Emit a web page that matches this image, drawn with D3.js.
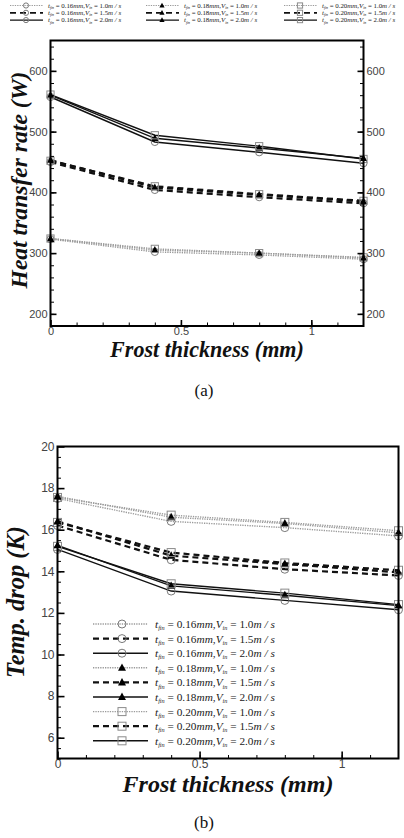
<!DOCTYPE html>
<html>
<head>
<meta charset="utf-8">
<script src="https://cdn.jsdelivr.net/npm/d3@7"></script>
<style>
  body { margin: 0; background: #fff; }
  svg { display: block; }
</style>
</head>
<body>
<script>
// ---- data ----
var frostThickness = [0, 0.4, 0.8, 1.2];          // mm
var finThickness = ["0.16", "0.18", "0.20"];      // mm (circle, triangle, square)
var inletVelocity = ["1.0", "1.5", "2.0"];        // m/s (dotted, dashed, solid)

// (a) heat transfer rate (W); rows = fin 0.16 / 0.18 / 0.20
var heatV10 = [[323, 302, 297, 290], [324, 305, 300, 292], [324, 307, 300, 293]];
var heatV15 = [[450, 404, 392, 382], [453, 408, 396, 385], [452, 410, 397, 386]];
var heatV20 = [[557, 483, 466, 448], [560, 489, 473, 456], [561, 494, 476, 455]];

// (b) temperature drop (K)
var tempV10 = [[17.5, 16.4, 16.1, 15.7], [17.6, 16.6, 16.3, 15.85], [17.55, 16.7, 16.35, 15.95]];
var tempV15 = [[16.2, 14.55, 14.1, 13.8], [16.4, 14.75, 14.35, 13.95], [16.35, 14.9, 14.4, 14.05]];
var tempV20 = [[15.05, 13.05, 12.6, 12.15], [15.25, 13.3, 12.85, 12.35], [15.2, 13.4, 12.95, 12.4]];

var xTickValues = [0, 0.5, 1];
var heatTickValues = [200, 300, 400, 500, 600];
var tempTickValues = [6, 8, 10, 12, 14, 16, 18, 20];

// ---- drawing ----
var W = 404, H = 838;
var svg = d3.select("body").append("svg").attr("width", W).attr("height", H);

var SERIF = "'Liberation Serif', 'Times New Roman', serif";
var SANS = "'Liberation Sans', Arial, sans-serif";

// one style per inlet velocity
var lineStyles = [
  { stroke: "#9a9a9a", width: 1.4, dash: "1.3,1.1" },
  { stroke: "#111", width: 2.2, dash: "6,4" },
  { stroke: "#111", width: 1.4, dash: null }
];

function drawMarker(g, k, x, y, s) {
  if (k === 0) {
    g.append("circle").attr("cx", x).attr("cy", y).attr("r", s)
      .attr("fill", "none").attr("stroke", "#7a7a7a").attr("stroke-width", 1);
  } else if (k === 1) {
    var pts = [[x, y - s * 1.1], [x - s, y + s * 0.75], [x + s, y + s * 0.75]];
    g.append("path").attr("d", "M" + pts.join("L") + "Z").attr("fill", "#000");
  } else {
    g.append("rect").attr("x", x - s).attr("y", y - s).attr("width", 2 * s).attr("height", 2 * s)
      .attr("fill", "none").attr("stroke", "#8a8a8a").attr("stroke-width", 1);
  }
}

function legendLabel(t, fin, vel, fs) {
  var sub = fs * 0.2;
  t.style("font-family", SERIF).style("white-space", "pre").style("font-size", fs + "px").attr("fill", "#222");
  t.append("tspan").style("font-style", "italic").text("t");
  t.append("tspan").style("font-style", "italic").style("font-size", (fs * 0.55) + "px").attr("dy", sub).text("fin");
  t.append("tspan").attr("dy", -sub).text(" = " + fin);
  t.append("tspan").style("font-style", "italic").text("mm,V");
  t.append("tspan").style("font-style", "italic").style("font-size", (fs * 0.55) + "px").attr("dy", sub).text("in");
  t.append("tspan").attr("dy", -sub).text(" = " + vel);
  t.append("tspan").style("font-style", "italic").text("m / s");
}

function fitText(sel, width) {
  var fs = parseFloat(sel.style("font-size"));
  var w = sel.node().getComputedTextLength();
  sel.style("font-size", (fs * width / w) + "px");
}

function drawPanel(p) {
  var g = svg.append("g");
  var x = d3.scaleLinear().domain([0, 1.2]).range([p.left, p.right]);
  var y = d3.scaleLinear().domain(p.yDomain).range([p.bottom, p.top]);

  var line = d3.line().x(function(d, i) { return x(frostThickness[i]); }).y(function(d) { return y(d); });

  // series
  p.series.forEach(function(rows, v) {
    rows.forEach(function(vals, k) {
      g.append("path").datum(vals).attr("d", line)
        .attr("fill", "none")
        .attr("stroke", lineStyles[v].stroke)
        .attr("stroke-width", lineStyles[v].width)
        .attr("stroke-dasharray", lineStyles[v].dash);
    });
  });
  p.series.forEach(function(rows, v) {
    rows.forEach(function(vals, k) {
      vals.forEach(function(d, i) { drawMarker(g, k, x(frostThickness[i]), y(d), p.markerSize); });
    });
  });

  // axes (ticks inward)
  function styleAxis(a) {
    a.select(".domain").remove();
    a.attr("font-family", null).attr("font-size", null);
    a.selectAll("line").attr("stroke", "#000");
    a.selectAll("text").style("font-family", SANS).style("font-size", p.tickFont + "px").attr("fill", "#444");
  }
  var minorX = d3.range(1, 12).map(function(i) { return i / 10; });
  var minorY = d3.range(p.yDomain[0], p.yDomain[1], p.yMinor);

  g.append("g").attr("transform", "translate(0," + p.bottom + ")")
    .call(d3.axisBottom(x).tickValues(minorX).tickSize(-3.5).tickFormat(""))
    .call(styleAxis).selectAll("line").attr("stroke-width", 1);
  g.append("g").attr("transform", "translate(0," + p.bottom + ")")
    .call(d3.axisBottom(x).tickValues(xTickValues).tickSize(-p.majorTick).tickPadding(1).tickFormat(d3.format("~g")))
    .call(styleAxis).selectAll("line").attr("stroke-width", 1.6);

  g.append("g").attr("transform", "translate(" + p.left + ",0)")
    .call(d3.axisLeft(y).tickValues(minorY).tickSize(-3.5).tickFormat(""))
    .call(styleAxis).selectAll("line").attr("stroke-width", 1);
  g.append("g").attr("transform", "translate(" + p.left + ",0)")
    .call(d3.axisLeft(y).tickValues(p.yTicks).tickSize(-p.majorTick).tickPadding(3))
    .call(styleAxis).selectAll("line").attr("stroke-width", 1.6);

  if (p.rightAxis) {
    g.append("g").attr("transform", "translate(" + p.right + ",0)")
      .call(d3.axisRight(y).tickValues(minorY).tickSize(-3.5).tickFormat(""))
      .call(styleAxis).selectAll("line").attr("stroke-width", 1);
    g.append("g").attr("transform", "translate(" + p.right + ",0)")
      .call(d3.axisRight(y).tickValues(p.yTicks).tickSize(-p.majorTick).tickPadding(3))
      .call(styleAxis).selectAll("line").attr("stroke-width", 1.6);
  }

  // frame
  g.append("rect").attr("x", p.left).attr("y", p.top)
    .attr("width", p.right - p.left).attr("height", p.bottom - p.top)
    .attr("fill", "none").attr("stroke", "#000").attr("stroke-width", 2);

  // axis titles
  var xt = g.append("text").style("font-family", SERIF).attr("x", p.xTitleX).attr("y", p.xTitleY)
    .attr("text-anchor", "middle").style("font-weight", "bold").style("font-style", "italic")
    .style("font-size", "20px").attr("fill", "#111").text("Frost thickness (mm)");
  fitText(xt, p.xTitleW);
  var yt = g.append("text").style("font-family", SERIF)
    .attr("transform", "translate(" + p.yTitleX + "," + p.yTitleY + ") rotate(-90)")
    .attr("text-anchor", "middle").style("font-weight", "bold").style("font-style", "italic")
    .style("font-size", "20px").attr("fill", "#111").text(p.yTitle);
  fitText(yt, p.yTitleW);

  // caption
  g.append("text").style("font-family", SERIF).attr("x", 204).attr("y", p.captionY).attr("text-anchor", "middle")
    .style("font-size", "17px").attr("fill", "#111").text(p.caption);
  return g;
}

// ---- panel (a) ----
drawPanel({
  left: 50.5, right: 363.5, top: 40.5, bottom: 326,
  yDomain: [180, 650], yTicks: heatTickValues, yMinor: 20,
  series: [heatV10, heatV15, heatV20], markerSize: 3.6,
  tickFont: 11, majorTick: 6, rightAxis: true,
  xTitleX: 207, xTitleY: 357, xTitleW: 194,
  yTitle: "Heat transfer rate (W)", yTitleX: 27, yTitleY: 180, yTitleW: 217,
  caption: "(a)", captionY: 396
});

// legend (a), three columns across the top
var legA = svg.append("g");
finThickness.forEach(function(fin, k) {
  var x0 = [10, 146, 284][k];
  inletVelocity.forEach(function(vel, v) {
    var yy = 5.5 + v * 7.3;
    legA.append("line").attr("x1", x0).attr("x2", x0 + 33).attr("y1", yy).attr("y2", yy)
      .attr("stroke", lineStyles[v].stroke).attr("stroke-width", lineStyles[v].width * 0.8)
      .attr("stroke-dasharray", lineStyles[v].dash);
    drawMarker(legA, k, x0 + 16, yy, 2.6);
    legendLabel(legA.append("text").attr("x", x0 + 38).attr("y", yy + 2.2), fin, vel, 6.9);
  });
});

// ---- panel (b) ----
drawPanel({
  left: 57.5, right: 398.5, top: 446.5, bottom: 758.5,
  yDomain: [5, 20], yTicks: tempTickValues, yMinor: 0.5,
  series: [tempV10, tempV15, tempV20], markerSize: 4,
  tickFont: 12, majorTick: 7, rightAxis: false,
  xTitleX: 228, xTitleY: 792, xTitleW: 211,
  yTitle: "Temp. drop (K)", yTitleX: 24, yTitleY: 602, yTitleW: 152,
  caption: "(b)", captionY: 828
});

// legend (b), inside the plot
var legB = svg.append("g");
var row = 0;
finThickness.forEach(function(fin, k) {
  inletVelocity.forEach(function(vel, v) {
    var yy = 624 + row * 14.6;
    legB.append("line").attr("x1", 93).attr("x2", 148).attr("y1", yy).attr("y2", yy)
      .attr("stroke", lineStyles[v].stroke).attr("stroke-width", lineStyles[v].width)
      .attr("stroke-dasharray", lineStyles[v].dash);
    drawMarker(legB, k, 122, yy, 4);
    legendLabel(legB.append("text").attr("x", 155).attr("y", yy + 4), fin, vel, 11.3);
    row++;
  });
});
</script>
</body>
</html>
